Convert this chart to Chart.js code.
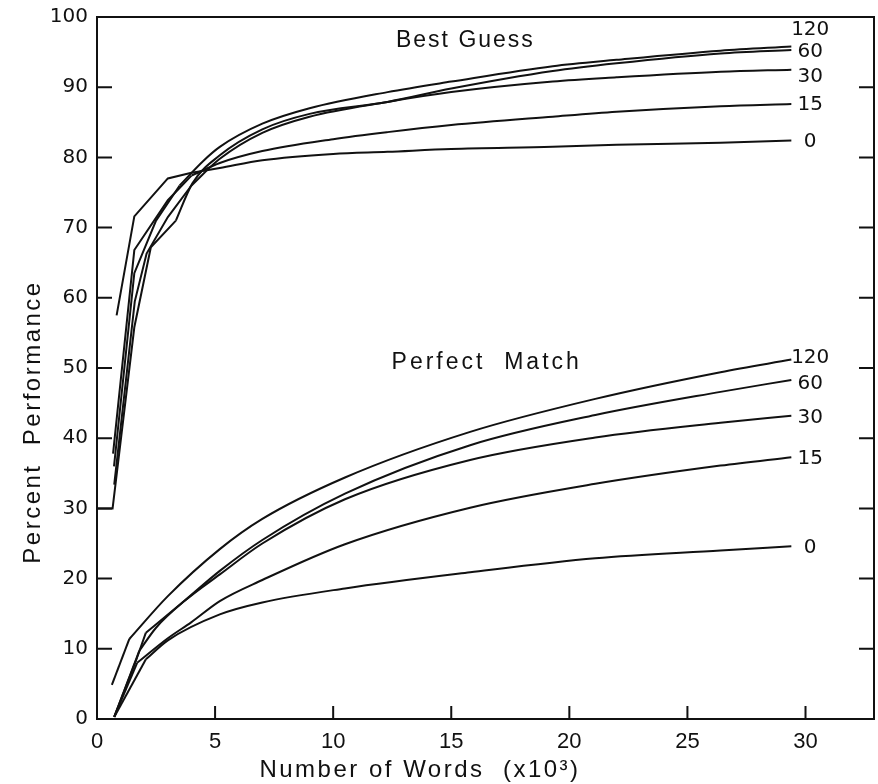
<!DOCTYPE html>
<html>
<head>
<meta charset="utf-8">
<script src="https://cdn.jsdelivr.net/npm/chart.js@4/dist/chart.umd.min.js"></script>
<style>
html,body{margin:0;padding:0;background:#fff;}
canvas{display:block;}
</style>
</head>
<body>
<canvas id="c" width="878" height="784"></canvas>
<script>
// curve values, [words (x10^3), percent]
let delays=["0","15","30","60","120"];

let best0=[[0.83,57.5],[1.58,71.6],[3.0,77.0],[4.0,77.8],[5.2,78.5],[7,79.6],[10,80.5],[12.3,80.8],[15,81.2],[19.3,81.5],[22,81.8],[26.4,82.1],[29.4,82.4]];
let best15=[[0.68,37.8],[1.58,66.8],[3.0,73.9],[4.0,77.4],[5.2,79.2],[7,80.9],[10,82.6],[12.3,83.6],[15,84.6],[19.3,85.8],[22,86.5],[26.4,87.3],[29.4,87.6]];
let best30=[[0.73,33.4],[1.6,59.5],[2.1,66.3],[3.0,71.5],[4.0,76.0],[5.2,79.8],[7,83.5],[9,85.8],[12.3,87.9],[15,89.3],[19.3,90.8],[22,91.4],[26.4,92.2],[29.4,92.5]];
let best60=[[0,30],[0.66,30],[1.58,55.8],[2.28,67.2],[3.34,71.0],[4.04,76.3],[5.2,80.3],[7,84.0],[9,86.2],[12.3,87.9],[15,89.8],[19.3,92.3],[22,93.4],[26.4,94.8],[29.4,95.3]];
let best120=[[0.72,36],[1.58,63.5],[2.5,71.0],[3.5,76.0],[4.5,79.5],[5.2,81.5],[7,84.8],[9,87.0],[12.3,89.3],[15,90.8],[19.3,93.0],[22,93.9],[26.4,95.2],[29.4,95.8]];

let perfect0=[[0.73,0.3],[2.07,8.5],[3.0,11.2],[5.2,14.9],[7,16.6],[10.5,18.6],[15.8,20.9],[21.1,22.9],[26.4,24.0],[29.4,24.6]];
let perfect15=[[0.73,0.3],[1.7,8.0],[3,11.5],[4,13.8],[5.2,16.8],[7,19.8],[10.5,24.9],[15.8,30.1],[21.1,33.5],[26.4,36.1],[29.4,37.3]];
let perfect30=[[0.73,0.3],[1.79,9.7],[2.5,13.0],[3.7,16.8],[5.2,20.6],[7,25.0],[10.5,31.3],[15.8,36.9],[21.1,40.1],[26.4,42.2],[29.4,43.2]];
let perfect60=[[0.73,0.3],[1.65,8.3],[2.07,12.3],[3.69,16.8],[5.2,21.1],[7,25.5],[10.5,32.1],[15.8,39.0],[21.1,43.3],[26.4,46.6],[29.4,48.3]];
let perfect120=[[0.63,4.85],[1.37,11.4],[3,17.5],[5.2,24.2],[7,28.5],[10.5,34.4],[15.8,40.9],[21.1,45.6],[26.4,49.4],[29.4,51.2]];

// end-of-curve label values (percent), same order as delays
let bestLabelY=[82.2,87.5,91.5,95.0,98.2];
let perfectLabelY=[24.4,37.0,42.9,47.7,51.4];
let labelX=30.2;

let xTicks=[0,5,10,15,20,25,30];
let yTicks=[0,10,20,30,40,50,60,70,80,90,100];

// straight polyline up to this x, smooth after (the plot has kinks at the start)
let bestKink=4.0;
let perfectKink=2.1;

let bestSeries=[best0,best15,best30,best60,best120];
let perfectSeries=[perfect0,perfect15,perfect30,perfect60,perfect120];

function lineSet(pts,smooth){
    return {
        data:pts.map(p=>({x:p[0],y:p[1]})),
        borderColor:"#111",
        borderWidth:2,
        pointRadius:0,
        fill:false,
        tension:0,
        cubicInterpolationMode:smooth?"monotone":"default"
    };
}

let datasets=[];
function addSeries(s,k){
    let early=s.filter(p=>p[0]<=k);
    let last=early[early.length-1];
    let late=s.filter(p=>p[0]>=last[0]);
    datasets.push(lineSet(early,false));
    datasets.push(lineSet(late,true));
}
bestSeries.forEach(s=>addSeries(s,bestKink));
perfectSeries.forEach(s=>addSeries(s,perfectKink));

let frame={
    id:"frame",
    afterDraw(chart){
        let c=chart.ctx, a=chart.chartArea;
        let xs=chart.scales.x, ys=chart.scales.y;
        c.save();
        c.strokeStyle="#111"; c.lineWidth=2;
        // top and right border
        c.beginPath();
        c.moveTo(a.left,a.top); c.lineTo(a.right,a.top); c.lineTo(a.right,a.bottom);
        c.stroke();
        // inward ticks
        c.beginPath();
        xTicks.forEach(v=>{
            if(v===0) return;
            let px=xs.getPixelForValue(v);
            c.moveTo(px,a.bottom); c.lineTo(px,a.bottom-13);
        });
        yTicks.forEach(v=>{
            let py=ys.getPixelForValue(v);
            c.moveTo(a.left,py); c.lineTo(a.left+15,py);
            if(v<100){ c.moveTo(a.right,py); c.lineTo(a.right-15,py); }
        });
        c.stroke();

        // curve labels
        c.fillStyle="#111";
        c.font="20px 'DejaVu Sans'";
        c.textAlign="center"; c.textBaseline="middle";
        delays.forEach((d,i)=>{
            c.fillText(d,xs.getPixelForValue(labelX),ys.getPixelForValue(bestLabelY[i]));
            c.fillText(d,xs.getPixelForValue(labelX),ys.getPixelForValue(perfectLabelY[i]));
        });

        // group titles
        c.font="23px 'Liberation Sans'";
        c.letterSpacing="2px";
        c.fillText("Best Guess",xs.getPixelForValue(15.6),ys.getPixelForValue(96.7));
        c.letterSpacing="3px";
        c.fillText("Perfect  Match",xs.getPixelForValue(16.5),ys.getPixelForValue(50.8));

        // axis titles
        c.font="24px 'Liberation Sans'";
        c.letterSpacing="2.5px";
        c.fillText("Number of Words  (x10³)",420,770);
        c.translate(33,(a.top+a.bottom)/2+54);
        c.rotate(-Math.PI/2);
        c.fillText("Percent  Performance",0,0);
        c.restore();
    }
};

let chart=new Chart(document.getElementById("c").getContext("2d"),{
    type:"line",
    data:{datasets:datasets},
    options:{
        responsive:false,
        animation:false,
        devicePixelRatio:1,
        layout:{padding:{top:17,right:4,left:0,bottom:0}},
        plugins:{legend:{display:false},tooltip:{enabled:false}},
        scales:{
            x:{
                type:"linear",min:0,max:32.9,
                afterFit:s=>{s.height=65;},
                afterBuildTicks:s=>{s.ticks=xTicks.map(v=>({value:v}));},
                grid:{display:false},
                border:{display:true,color:"#111",width:2},
                ticks:{color:"#111",padding:2,maxRotation:0,
                    font:{family:"'Liberation Sans Narrow','Liberation Sans'",size:22}}
            },
            y:{
                type:"linear",min:0,max:100,
                afterFit:s=>{s.width=97;},
                afterBuildTicks:s=>{s.ticks=yTicks.map(v=>({value:v}));},
                grid:{display:false},
                border:{display:true,color:"#111",width:2},
                ticks:{color:"#111",padding:1,
                    font:{family:"'DejaVu Sans'",size:20}}
            }
        }
    },
    plugins:[frame]
});
</script>
</body>
</html>
